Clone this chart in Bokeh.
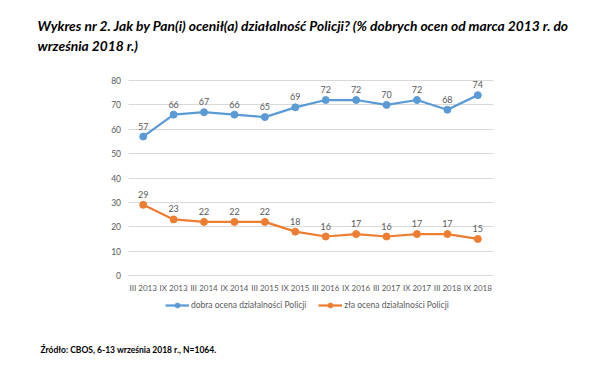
from bokeh.plotting import figure
from bokeh.models import (ColumnDataSource, Label, LabelSet, Legend, LegendItem,
                          Range1d, FixedTicker)
from bokeh.core.properties import value
from bokeh.embed import file_html
from bokeh.resources import INLINE

categories = ["III 2013", "IX 2013", "III 2014", "IX 2014", "III 2015", "IX 2015",
              "III 2016", "IX 2016", "III 2017", "IX 2017", "III 2018", "IX 2018"]
dobra = [57, 66, 67, 66, 65, 69, 72, 72, 70, 72, 68, 74]
zla = [29, 23, 22, 22, 22, 18, 16, 17, 16, 17, 17, 15]
y_ticks = [0, 10, 20, 30, 40, 50, 60, 70, 80]

title_line1 = "Wykres nr 2. Jak by Pan(i) ocenił(a) działalność Policji? (% dobrych ocen od marca 2013 r. do"
title_line2 = "września 2018 r.)"
source_text = "Źródło: CBOS, 6-13 września 2018 r., N=1064."
name_dobra = "dobra ocena działalności Policji"
name_zla = "zła ocena działalności Policji"

BLUE = "#5B9BD5"
ORANGE = "#ED7D31"
GREY = "#595959"
GRID = "#D9D9D9"
FONT = "Lato"

# canvas geometry (pixels) of the plotting area
W, H = 600, 367
AREA_L, AREA_R, AREA_T, AREA_B = 127.5, 492.5, 80, 275
n = len(categories)
ymax = y_ticks[-1]
px_x = (AREA_R - AREA_L) / n
px_y = (AREA_B - AREA_T) / ymax
x0 = -0.5 - AREA_L / px_x
y0 = -(H - AREA_B) / px_y

xs = list(range(n))
p = figure(width=W, height=H, x_range=Range1d(x0, x0 + W / px_x),
           y_range=Range1d(y0, y0 + H / px_y),
           output_backend="svg", toolbar_location=None,
           min_border_left=0, min_border_right=0, min_border_top=0, min_border_bottom=0)
p.outline_line_color = None
p.background_fill_color = "white"

# horizontal gridlines limited to the plotting area
grid = p.ygrid[0]
grid.ticker = FixedTicker(ticks=y_ticks)
if "cross_bounds" in grid.properties():
    grid.cross_bounds = (-0.5, n - 0.5)
    grid.grid_line_color = GRID
else:
    grid.grid_line_color = None
    p.segment(x0=[-0.5] * len(y_ticks), x1=[n - 0.5] * len(y_ticks),
              y0=y_ticks, y1=y_ticks, line_color=GRID, line_width=1)
p.xgrid.grid_line_color = None

src = ColumnDataSource(dict(x=xs, dobra=dobra, zla=zla,
                            dl=[str(v) for v in dobra], zl=[str(v) for v in zla]))

l1 = p.line("x", "dobra", source=src, color=BLUE, line_width=2.25)
s1 = p.scatter("x", "dobra", source=src, size=7, color=BLUE)
l2 = p.line("x", "zla", source=src, color=ORANGE, line_width=2.25)
s2 = p.scatter("x", "zla", source=src, size=7, color=ORANGE)

for col, txt in (("dobra", "dl"), ("zla", "zl")):
    p.add_layout(LabelSet(x="x", y=col, text=txt, source=src, y_offset=7,
                          text_align="center", text_baseline="bottom",
                          text_font=value(FONT), text_font_size="9px", text_color=GREY))

p.xaxis.ticker = FixedTicker(ticks=xs)
p.xaxis.major_label_overrides = {i: c for i, c in enumerate(categories)}
p.xaxis.fixed_location = 0
p.yaxis.ticker = FixedTicker(ticks=y_ticks)
p.yaxis.fixed_location = -0.5
for ax in (p.xaxis[0], p.yaxis[0]):
    ax.axis_line_color = None
    ax.major_tick_line_color = None
    ax.minor_tick_line_color = None
    ax.major_tick_out = 0
    ax.major_tick_in = 0
    ax.major_label_text_font = FONT
    ax.major_label_text_color = GREY
p.xaxis.major_label_text_font_size = "8px"
p.yaxis.major_label_text_font_size = "8.5px"
p.xaxis.major_label_standoff = 7
p.yaxis.major_label_standoff = 7

legend = Legend(items=[LegendItem(label=name_dobra, renderers=[l1, s1]),
                       LegendItem(label=name_zla, renderers=[l2, s2])],
                orientation="horizontal", location=(165, H - 311),
                label_text_font=FONT, label_text_font_size="8.5px",
                label_text_color=GREY, glyph_width=24, glyph_height=12, spacing=12,
                label_standoff=2, label_height=12,
                background_fill_alpha=0, border_line_color=None, padding=0, margin=0)
p.add_layout(legend, "center")

for txt, ypix in ((title_line1, 25), (title_line2, 45)):
    p.add_layout(Label(x=37, y=H - ypix, x_units="screen", y_units="screen", text=txt,
                       text_font=FONT, text_font_size="13.8px", text_font_style="bold italic",
                       text_color="black", text_baseline="middle"))
p.add_layout(Label(x=40, y=H - 349, x_units="screen", y_units="screen", text=source_text,
                   text_font=FONT, text_font_size="8.5px", text_font_style="bold",
                   text_color="black", text_baseline="middle"))

open("out.html", "w").write(file_html(p, INLINE))
